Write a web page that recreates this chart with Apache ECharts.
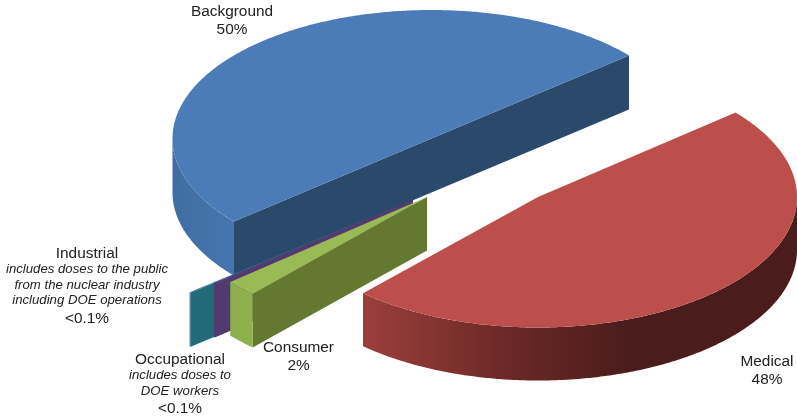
<!DOCTYPE html>
<html>
<head>
<meta charset="utf-8">
<style>html,body{margin:0;padding:0;background:#fff}#chart{width:797px;height:419px}</style>
<script src="https://cdn.jsdelivr.net/npm/echarts@6/dist/echarts.min.js"></script>
</head>
<body>
<div id="chart"></div>
<script>
// Sources of radiation dose, share of the total in percent (clockwise).
const categories = ['Background', 'Medical', 'Consumer', 'Occupational', 'Industrial'];
const shares = [50, 48, 2, 0.1, 0.1];
const shareLabels = ['50%', '48%', '2%', '<0.1%', '<0.1%'];
const notes = [
  [],
  [],
  [],
  ['includes doses to', 'DOE workers'],
  ['includes doses to the public', 'from the nuclear industry', 'including DOE operations']
];

// Layout of the exploded pie: each wedge has its own projected centre and radii.
const START_ANGLE = 220.3;
const layout = {
  Background:   { cx: 431.5, cy: 138.5, rx: 259, ry: 128.5, depth: 54, z: 1 },
  Medical:      { cx: 538, cy: 197, rx: 259, ry: 130.5, depth: 53, z: 5 },
  Consumer:     { cx: 427, cy: 197, rx: 258, ry: 131.5, depth: 53.5, z: 4 },
  Occupational: { cx: 413, cy: 199.5, rx: 260, ry: 130, depth: 54, z: 3 },
  Industrial:   { cx: 390, cy: 209.3, rx: 260, ry: 130, depth: 54, z: 2 }
};
const palette = {
  Background:   { top: '#4c7cb7', cut: '#2b4a6b', wall: ['#416ea1', '#4675ae'] },
  Medical:      { top: '#bc4f4b', cut: '#4a1c1c', wall: ['#9b3f3c', '#4a1c1c'], wallStop: 0.62 },
  Consumer:     { top: '#9aba55', cut: '#64782f', wall: ['#8cae4b', '#90b24d'] },
  Occupational: { top: '#4f4688', cut: '#523a70', wall: ['#523a70', '#523a70'] },
  Industrial:   { top: '#3c7392', cut: '#22697a', wall: ['#22697a', '#22697a'] }
};
const labelPlace = {
  Background:   { x: 232, y: 12 },
  Medical:      { x: 767, y: 362 },
  Consumer:     { x: 298.5, y: 348 },
  Occupational: { x: 180, y: 360 },
  Industrial:   { x: 87, y: 254 }
};
const NAME_FONT = '15.4px "Liberation Sans", Arial, sans-serif';
const NOTE_FONT = 'italic 13.2px "Liberation Sans", Arial, sans-serif';

// Degrees per percentage point of the full circle
const DEG_PER_PERCENT = 3.6;

function project(g, deg, drop) {
  const t = deg * Math.PI / 180;
  return [g.cx + g.rx * Math.cos(t), g.cy - g.ry * Math.sin(t) + (drop || 0)];
}
function arc(g, from, to, drop) {
  const n = Math.max(2, Math.ceil(Math.abs(from - to) * 2));
  const pts = [];
  for (let i = 0; i <= n; i++) pts.push(project(g, from + (to - from) * i / n, drop));
  return pts;
}
function radialFace(g, deg) {
  return [project(g, deg), [g.cx, g.cy], [g.cx, g.cy + g.depth], project(g, deg, g.depth)];
}

function renderSlice(idx, api) {
  const name = categories[idx];
  const g = layout[name], c = palette[name];
  let before = 0;
  for (let i = 0; i < idx; i++) before += shares[i] * DEG_PER_PERCENT;
  const from = START_ANGLE - before;
  const to = from - api.value(0) * DEG_PER_PERCENT;
  const children = [];
  const poly = function (points, fill) {
    children.push({ type: 'polygon', shape: { points: points }, style: { fill: fill, stroke: null }, silent: true });
  };

  // Cut faces turned towards the viewer; two facing faces form one continuous band
  const showFrom = Math.cos(from * Math.PI / 180) < 0;
  const showTo = Math.cos(to * Math.PI / 180) > 0;
  if (showFrom && showTo) {
    poly([project(g, from), [g.cx, g.cy], project(g, to), project(g, to, g.depth),
      [g.cx, g.cy + g.depth], project(g, from, g.depth)], c.cut);
  } else if (showFrom) {
    poly(radialFace(g, from), c.cut);
  } else if (showTo) {
    poly(radialFace(g, to), c.cut);
  }

  // Rim: only the front half of the ellipse can be seen
  let a0 = from, a1 = to;
  if (a0 > 180 && a1 < 180) { a1 = 180; }
  else if (a0 > 0 && a1 < 0) { a0 = 0; }
  if (Math.sin((a0 + a1) / 2 * Math.PI / 180) < 0) {
    const rim = arc(g, a0, a1, 0).concat(arc(g, a1, a0, g.depth));
    const stop = c.wallStop || 1;
    poly(rim, new echarts.graphic.LinearGradient(0, 0, 1, 0,
      name === 'Medical'
        ? [{ offset: 0, color: c.wall[0] }, { offset: stop * 0.55, color: '#6a2826' }, { offset: stop, color: c.wall[1] }, { offset: 1, color: c.wall[1] }]
        : [{ offset: 0, color: c.wall[0] }, { offset: 1, color: c.wall[1] }]));
  }

  // Top face
  poly([[g.cx, g.cy]].concat(arc(g, from, to, 0)), c.top);

  // Caption: name, optional italic note lines, share
  const p = labelPlace[name];
  const lines = [{ t: name, f: NAME_FONT }];
  notes[idx].forEach(function (t) { lines.push({ t: t, f: NOTE_FONT, h: 15.5 }); });
  lines.push({ t: shareLabels[idx], f: NAME_FONT, h: 18 });
  let y = p.y;
  lines.forEach(function (l) {
    y += l.h || 0;
    children.push({
      type: 'text', silent: true, z2: 50,
      style: { x: p.x, y: y, text: l.t, font: l.f, fill: '#222', align: 'center', verticalAlign: 'middle' }
    });
  });

  return { type: 'group', children: children };
}

const chart = echarts.init(document.getElementById('chart'), null, { renderer: 'canvas' });
chart.setOption({
  animation: false,
  backgroundColor: '#fff',
  series: categories.map(function (name, i) {
    return {
      type: 'custom',
      name: name,
      coordinateSystem: 'none',
      z: 2 + layout[name].z,
      renderItem: function (params, api) {
        return renderSlice(i, api);
      },
      data: [{ name: name, value: [shares[i]] }]
    };
  })
});
</script>
</body>
</html>
